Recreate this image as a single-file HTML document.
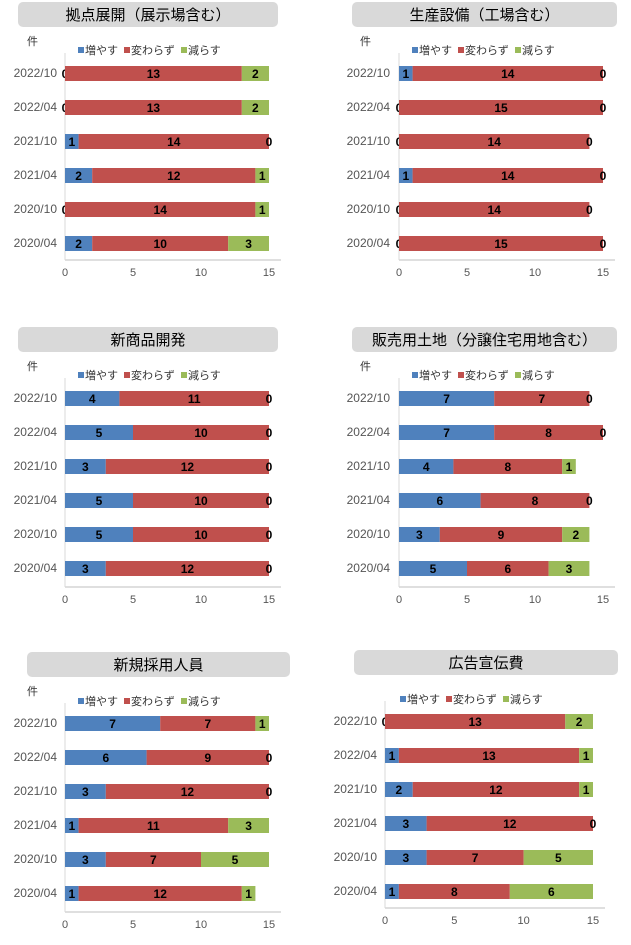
<!DOCTYPE html>
<html><head><meta charset="utf-8">
<style>
body{margin:0;background:#fff;width:631px;height:940px;overflow:hidden;font-family:"Liberation Sans","Noto Sans CJK JP",sans-serif;}
svg text{font-family:"Liberation Sans","Noto Sans CJK JP",sans-serif;}
</style></head>
<body>
<svg id="chart" width="631" height="940" xmlns="http://www.w3.org/2000/svg"></svg>
<script>
const categories = ["2022/10","2022/04","2021/10","2021/04","2020/10","2020/04"];
const titles = ["拠点展開（展示場含む）","生産設備（工場含む）","新商品開発","販売用土地（分譲住宅用地含む）","新規採用人員","広告宣伝費"];
const increase = [[0,0,1,2,0,2],[1,0,0,1,0,0],[4,5,3,5,5,3],[7,7,4,6,3,5],[7,6,3,1,3,1],[0,1,2,3,3,1]];
const unchanged = [[13,13,14,12,14,10],[14,15,14,14,14,15],[11,10,12,10,10,12],[7,8,8,8,9,6],[7,9,12,11,7,12],[13,13,12,12,7,8]];
const decrease = [[2,2,0,1,1,3],[0,0,0,0,0,0],[0,0,0,0,0,0],[0,0,1,0,2,3],[1,0,0,3,5,1],[2,1,1,0,5,6]];
const ticks = [0,5,10,15];
const seriesNames = ["増やす","変わらず","減らす"];
const colors = ["#4f81bd","#c0504d","#9bbb59"];

const layouts = [
 {tx:18,ty:2,tw:260,x0:65,x15:269,r0:73,ax:260,lx:57,ky:45,kx:27,lg:78,lgy:52},
 {tx:352,ty:2,tw:265,x0:399,x15:603,r0:73,ax:260,lx:390,ky:45,kx:360,lg:412,lgy:52},
 {tx:18,ty:327,tw:260,x0:65,x15:269,r0:398,ax:587,lx:57,ky:370,kx:27,lg:78,lgy:377},
 {tx:352,ty:327,tw:265,x0:399,x15:603,r0:398,ax:587,lx:390,ky:370,kx:360,lg:412,lgy:377},
 {tx:27,ty:652,tw:263,x0:65,x15:269,r0:723,ax:912,lx:57,ky:695,kx:27,lg:78,lgy:703},
 {tx:354,ty:650,tw:264,x0:385,x15:593,r0:721,ax:908,lx:377,ky:0,kx:0,lg:400,lgy:701}
];
const svg = document.getElementById('chart');
const NS = "http://www.w3.org/2000/svg";
function mk(tag, attrs, parent){const e=document.createElementNS(NS,tag);for(const k in attrs)e.setAttribute(k,attrs[k]);(parent||svg).appendChild(e);return e;}

layouts.forEach((L,p)=>{
  const g = mk('g',{});
  
  
  const xs = v => L.x0 + v*(L.x15-L.x0)/15;
  const box = mk('rect',{x:L.tx,y:L.ty,width:L.tw,height:25,rx:5,fill:'#d9d9d9'},g);
  
  
  const t = mk('text',{x:L.tx+L.tw/2,y:L.ty+18,'text-anchor':'middle','font-size':15,fill:'#000'},g);
  t.textContent = titles[p];
  
  
  if(L.ky){
    const u = mk('text',{x:L.kx,y:L.ky,'font-size':11,fill:'#333'},g);
    u.textContent='件';
    
    
  }
  let lx = L.lg;
  seriesNames.forEach((n,i)=>{
    const sq = mk('rect',{x:lx,y:L.lgy-5,width:6,height:6,fill:colors[i]},g);
    
    
    const lt = mk('text',{x:lx+7,y:L.lgy+2,'font-size':11,fill:'#333'},g);
    lt.textContent=n;
    
    
    lx += 7 + n.length*11 + 6;
  });
  // axis
  const al = mk('line',{x1:L.x0,y1:L.ax,x2:L.x15+12,y2:L.ax,stroke:'#bfbfbf'},g);
  
  
  const yl = mk('line',{x1:L.x0,y1:L.r0-20,x2:L.x0,y2:L.ax,stroke:'#d9d9d9'},g);
  
  
  ticks.forEach(v=>{
    const tk = mk('text',{x:xs(v),y:L.ax+16,'text-anchor':'middle','font-size':11,fill:'#555'},g);
    tk.textContent=v;
    
    
  });
  categories.forEach((c,r)=>{
    const yc = L.r0 + r*34;
    const cl = mk('text',{x:L.lx,y:yc+4,'text-anchor':'end','font-size':12,fill:'#555'},g);
    cl.textContent=c;
    
    
    const vals=[increase[p][r],unchanged[p][r],decrease[p][r]];
    let acc=0;
    vals.forEach((v,i)=>{
      if(v>0){
        const b = mk('rect',{x:xs(acc),y:yc-7,width:xs(acc+v)-xs(acc),height:15,fill:colors[i]},g);
        
        
      }
      const vt = mk('text',{x:xs(acc+v/2),y:yc+5,'text-anchor':'middle','font-size':12,'font-weight':'bold',fill:'#000'},g);
      vt.textContent=v;
      
      
      acc+=v;
    });
  });
});
</script>
</body></html>
